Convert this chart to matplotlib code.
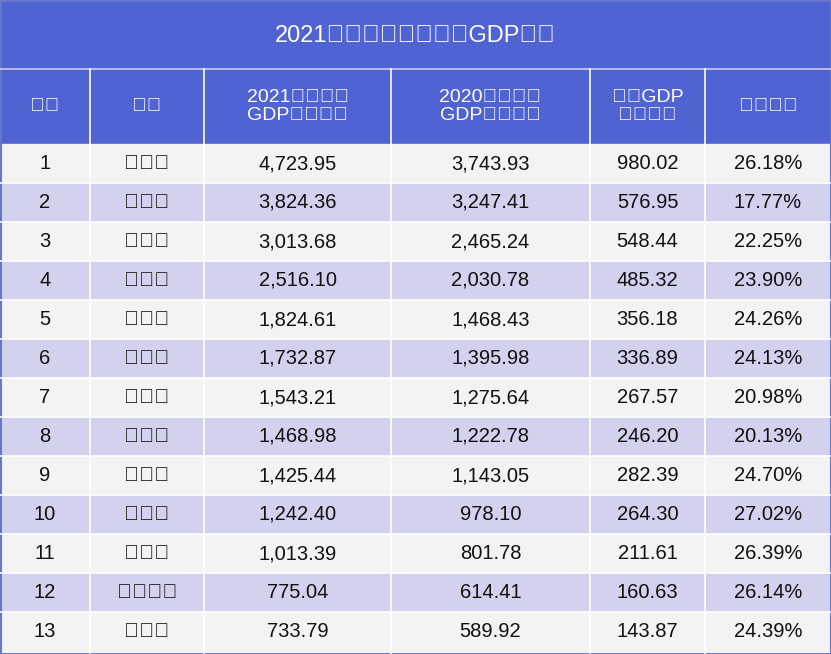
import matplotlib.pyplot as plt
from matplotlib.patches import Rectangle

plt.rcParams['font.family'] = 'sans-serif'
plt.rcParams['font.sans-serif'] = ['Liberation Sans', 'Noto Sans CJK SC', 'Noto Sans CJK JP',
                                   'Noto Sans CJK TC', 'DejaVu Sans']

title = "2021年一季度江苏各市GDP排名"
headers = ["序号", "地区", "2021年一季度\nGDP（亿元）", "2020年一季度\nGDP（亿元）", "增量GDP\n（亿元）", "同比增长"]
ranks = [str(i) for i in range(1, 14)]
cities = ["苏州市", "南京市", "无锡市", "南通市", "常州市", "徐州市", "扬州市",
          "盐城市", "泰州市", "镇江市", "淮安市", "连云港市", "宿迁市"]
gdp2021 = ["4,723.95", "3,824.36", "3,013.68", "2,516.10", "1,824.61", "1,732.87", "1,543.21",
           "1,468.98", "1,425.44", "1,242.40", "1,013.39", "775.04", "733.79"]
gdp2020 = ["3,743.93", "3,247.41", "2,465.24", "2,030.78", "1,468.43", "1,395.98", "1,275.64",
           "1,222.78", "1,143.05", "978.10", "801.78", "614.41", "589.92"]
increase = ["980.02", "576.95", "548.44", "485.32", "356.18", "336.89", "267.57",
            "246.20", "282.39", "264.30", "211.61", "160.63", "143.87"]
growth = ["26.18%", "17.77%", "22.25%", "23.90%", "24.26%", "24.13%", "20.98%",
          "20.13%", "24.70%", "27.02%", "26.39%", "26.14%", "24.39%"]

W, H = 831, 654
col_x = [0, 90, 204, 391, 590, 705, 831]
title_h, head_top, head_bot = 68, 69, 144
row_h = 39

fig = plt.figure(figsize=(W / 100, H / 100), dpi=100)
ax = fig.add_axes([0, 0, 1, 1])
ax.set_xlim(0, W)
ax.set_ylim(H, 0)
ax.axis('off')

blue = '#4f63d2'
ax.add_patch(Rectangle((0, 0), W, head_bot, color=blue))
ax.plot([0, W], [head_top - 0.5, head_top - 0.5], color='#c8cdf0', lw=1.2)
ax.text(W / 2, title_h / 2 + 2, title, color='white', fontsize=17, ha='center', va='center')

for j, h in enumerate(headers):
    ax.text((col_x[j] + col_x[j + 1]) / 2, (head_top + head_bot) / 2, h, color='white',
            fontsize=14, ha='center', va='center', linespacing=1.15)

columns = [ranks, cities, gdp2021, gdp2020, increase, growth]
for i in range(len(ranks)):
    y0 = head_bot + i * row_h
    ax.add_patch(Rectangle((0, y0), W, row_h, color='#f3f3f3' if i % 2 == 0 else '#d2d2ee'))
    for j, col in enumerate(columns):
        ax.text((col_x[j] + col_x[j + 1]) / 2, y0 + row_h / 2, col[i], color='#111111',
                fontsize=14.5, ha='center', va='center', fontweight='medium')

for x in col_x[1:-1]:
    ax.plot([x, x], [head_top, H], color='white', lw=1.2)
for i in range(1, len(ranks)):
    y = head_bot + i * row_h
    ax.plot([0, W], [y, y], color='white', lw=1.2)
ax.add_patch(Rectangle((0.5, 0.5), W - 1, H - 1, fill=False, edgecolor='#6677cc', lw=1.5))

fig.savefig('out.png', dpi=100)
